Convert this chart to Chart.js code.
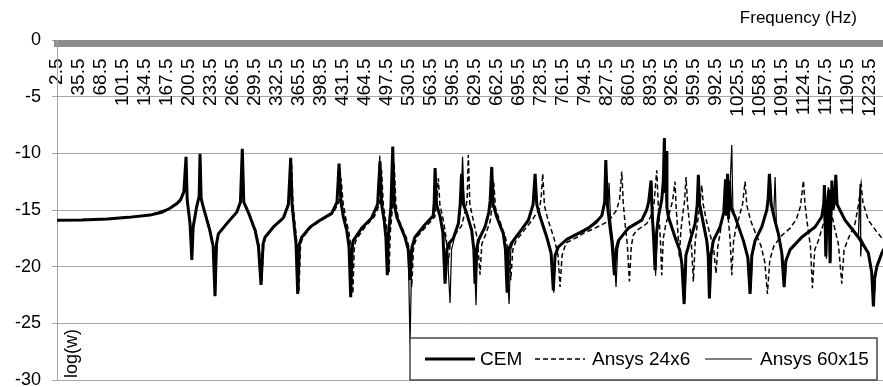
<!DOCTYPE html>
<html>
<head>
<meta charset="utf-8">
<script src="https://cdn.jsdelivr.net/npm/chart.js@4.4.1/dist/chart.umd.min.js"></script>
<style>
  html, body { margin: 0; padding: 0; background: #fff; }
</style>
</head>
<body>
<canvas id="freq-chart" width="883" height="387"></canvas>
<script>
// tick labels of the frequency axis (Hz)
const freqTicks = [2.5, 35.5, 68.5, 101.5, 134.5, 167.5, 200.5, 233.5, 266.5, 299.5,
    332.5, 365.5, 398.5, 431.5, 464.5, 497.5, 530.5, 563.5, 596.5, 629.5, 662.5,
    695.5, 728.5, 761.5, 794.5, 827.5, 860.5, 893.5, 926.5, 959.5, 992.5, 1025.5,
    1058.5, 1091.5, 1124.5, 1157.5, 1190.5, 1223.5];

// [frequency, log(w)]
const cemPoints = [
    [2.5, -15.9], [40, -15.88], [78, -15.8], [110, -15.65], [142, -15.45], [160, -15.2], [172, -14.85], [182, -14.45], [188, -14.1], [193, -13.4], [196.3, -10.3],
    [198, -14.1], [202.3, -16.2], [205, -19.4], [207, -16.5], [212.3, -14.7], [216, -13.8], [217.3, -10.05],
    [219, -14.0], [222, -14.7], [232, -16.8], [237, -18.2], [239.8, -22.6], [242, -18.0], [244.8, -17.1], [257.4, -16.2], [272.4, -15.2], [278, -14.3], [280.8, -9.6],
    [283, -14.3], [289.8, -15.2], [300, -16.8], [305, -18.2], [308.9, -21.6], [312, -18.0], [314.9, -17.4], [327.4, -16.5], [342.4, -15.7], [350, -14.5], [353.5, -10.4],
    [355.5, -14.5], [358, -16.0], [361.5, -18.0], [364, -22.4], [366.5, -18.0], [370, -17.4], [382.5, -16.5], [395, -16.0], [415, -15.3], [423, -14.3], [426.1, -10.9],
    [429, -14.3], [432.5, -15.6], [437.6, -16.8], [441, -18.2], [443.6, -22.7], [446, -18.2], [447.5, -17.7], [460, -16.6], [475, -15.7], [484, -14.5], [487.6, -10.7],
    [490, -14.5], [494, -16.0], [496.5, -17.5], [498.6, -20.75], [500.3, -17.1], [504, -14.7], [506.7, -9.4],
    [509, -14.5], [512.7, -15.6], [525, -17.4], [530, -18.5], [532.7, -21.2], [535.5, -18.3], [540, -17.4], [555, -16.3], [567.5, -15.5], [569, -14.3], [570.3, -11.3],
    [572.5, -14.5], [578, -15.6], [582, -17.0], [585.3, -21.5], [588, -18.5], [592, -17.9], [597.7, -17.5], [605.3, -16.2], [608, -14.5], [610, -11.8],
    [613, -14.5], [617.8, -15.3], [625.3, -16.8], [628.5, -18.5], [630.3, -21.5], [632.5, -18.5], [635.3, -17.7], [645.3, -16.5], [651, -15.2], [653, -14.2], [655.4, -11.2],
    [657.5, -14.5], [662.9, -15.6], [672.8, -17.1], [676, -18.5], [678.5, -22.3], [680.5, -18.5], [685.4, -17.9], [697.9, -16.9], [710.4, -15.9], [717.5, -14.5], [720.5, -11.8],
    [723, -14.5], [728, -15.6], [738, -17.4], [744.5, -18.8], [747.9, -22.1], [750.5, -19.0], [755.5, -18.25], [768, -17.6], [788, -17.0], [800.5, -16.6], [812, -16.1], [820.7, -15.5], [825, -14.3], [826.7, -10.6],
    [829, -14.5], [833, -16.5], [836, -17.9], [839.6, -20.75], [842, -18.5], [845.6, -17.7], [860.6, -16.6], [880.7, -15.9], [888, -15.0], [891, -14.3], [894.7, -12.4],
    [896.5, -15.5], [898.5, -17.5], [900.7, -20.3], [903, -17.0], [905.7, -15.6], [910.7, -14.1], [913, -12.5], [914.7, -8.65], [916, -13.5], [917.3, -9.8], [918.5, -14.8],
    [920.7, -15.6], [930.7, -17.4], [938, -18.6], [941, -19.8], [944.3, -23.3],
    [947, -19.0], [953.3, -17.7], [960.8, -16.2], [964, -14.5], [965.7, -11.9],
    [967.5, -14.5], [973.2, -16.2], [978.3, -17.7], [980.5, -19.0], [982.3, -22.8], [984.5, -19.0], [988.2, -17.7], [998.3, -16.5], [1004, -15.2], [1006.5, -12.3], [1008, -15.5], [1009.5, -11.8], [1011, -15.8], [1012.5, -12.4],
    [1014.5, -14.8], [1020.9, -15.6], [1033.3, -17.7], [1040, -19.2], [1043.4, -22.4], [1046, -19.0], [1050.9, -17.7], [1061, -16.5], [1068.5, -15.0], [1070.5, -14.0], [1072.4, -11.8],
    [1075, -14.5], [1081, -16.0], [1085.9, -17.1], [1091, -18.8], [1094.5, -21.8], [1097, -19.5], [1103.5, -18.5], [1121, -17.4], [1141, -16.5], [1151, -15.6], [1154, -14.5], [1155, -12.8], [1157.1, -19.1], [1159, -14.8], [1161.5, -13.2], [1163.5, -19.7], [1165, -14.5], [1166.1, -12.4], [1168, -15.0], [1170.5, -14.0], [1172.1, -11.9],
    [1174, -14.5], [1186, -15.9], [1206, -17.4], [1221, -18.8], [1226, -20.5], [1228.6, -23.5], [1230.5, -21.0], [1233.7, -20.0], [1241.2, -18.8], [1243, -18.6]
];

const ansys24Points = [
    [2.5, -15.9], [78, -15.8], [142, -15.45], [172, -14.85], [187, -14.3], [193, -13.4], [196.5, -10.8],
    [198.3, -14.1], [202.5, -16.2], [205.3, -19.2], [207.3, -16.5], [212.5, -14.7], [216.2, -13.8], [217.6, -10.5],
    [219.3, -14.0], [222.5, -14.7], [232.5, -16.8], [237.5, -18.2], [240.3, -22.3], [242.5, -18.0], [245.3, -17.1], [258, -16.2], [273, -15.2], [278.5, -14.3], [281.3, -10.0],
    [283.5, -14.3], [290.5, -15.2], [301, -16.8], [306, -18.2], [309.8, -21.4], [313, -18.0], [316, -17.4], [328.5, -16.5], [343.5, -15.7], [351, -14.5], [354.8, -10.9],
    [357, -14.5], [359.5, -16.0], [363, -18.0], [365.8, -22.2], [368.3, -18.0], [372, -17.4], [384.5, -16.5], [397, -16.0], [417, -15.3], [426, -14.3], [429.1, -12.2],
    [432, -14.3], [436, -15.7], [441, -17.0], [444.5, -18.4], [446.8, -22.4], [449, -18.2], [452, -17.6], [465, -16.5], [479, -15.6], [487, -14.5], [490, -11.5],
    [492.5, -14.5], [497, -16.3], [499.5, -17.6], [501.2, -20.5], [503, -17.0], [506.5, -14.7], [508.8, -10.8],
    [511.5, -14.5], [515.5, -15.8], [527.5, -17.5], [532.5, -18.6], [535.2, -21.8], [538, -18.3], [543, -17.4], [558, -16.4], [570, -15.6], [572.5, -14.3], [575.2, -12.2],
    [577.5, -14.5], [583, -16.0], [587, -17.5], [590.3, -19.5], [593, -18.0], [600, -17.2], [610, -16.4], [616, -15.0], [618.5, -14.0], [620.2, -10.15],
    [622.5, -14.5], [628, -16.0], [634, -17.6], [637.8, -20.7], [640.5, -18.0], [646, -17.2], [653, -16.0], [656, -14.6], [658.5, -12.6],
    [661, -14.8], [667, -15.9], [676, -17.4], [680.5, -18.8], [684, -21.2], [687, -18.5], [692, -17.7], [704, -16.8], [716, -15.9], [727, -14.9], [729.5, -14.0], [732, -11.8],
    [734.5, -14.6], [740, -15.9], [749, -17.5], [755, -19.0], [758, -21.8], [761, -19.0], [767, -17.9], [780.5, -17.5], [795, -17.0], [810.6, -16.6], [830.6, -16.0], [843, -15.0], [847.5, -14.0], [850.7, -11.6],
    [853, -14.5], [856, -16.4], [859, -18.0], [862.1, -21.3], [865, -18.2], [868.1, -17.2], [873.2, -16.8], [880.7, -16.5], [888.2, -16.2], [894, -15.6], [899, -14.5], [903.2, -11.5],
    [905.5, -14.6], [907.5, -16.5], [909, -18.0], [910.7, -20.75], [913, -17.5], [917, -16.2], [922, -15.3], [927, -14.2], [930.7, -12.5],
    [932.5, -15.0], [934.5, -16.5], [937.1, -19.1], [939.5, -16.8], [942, -15.5], [945, -14.2], [947.2, -12.1],
    [949.5, -14.5], [952, -16.0], [955, -17.7], [958.2, -21.3], [961, -17.8], [964, -16.3], [967, -15.0], [970.8, -12.8],
    [973, -14.5], [978, -16.0], [984, -17.3], [989, -18.6], [992.3, -20.6], [995, -18.2], [999, -16.8], [1003, -15.2], [1006, -12.5],
    [1008.5, -14.5], [1011, -16.0], [1013.5, -17.7], [1015.9, -20.75], [1018.5, -17.8], [1022, -16.6], [1027, -15.6], [1032, -14.5], [1035.9, -12.5],
    [1038.5, -14.6], [1044, -15.9], [1052, -17.1], [1060, -18.2], [1065.5, -19.6], [1069.4, -22.4], [1073, -19.4], [1079, -18.2], [1090, -17.3], [1103.5, -16.6], [1113, -15.8], [1119, -14.7], [1123.5, -12.4],
    [1126, -14.6], [1130, -16.5], [1134, -18.2], [1137, -21.9], [1140.5, -18.5], [1146, -17.7], [1153.5, -16.2], [1157.5, -15.0], [1161, -13.0],
    [1164, -14.8], [1170, -16.5], [1176, -18.0], [1181.1, -21.5], [1184.5, -18.5], [1191, -17.5], [1201, -16.2], [1206, -14.6], [1210.1, -12.7],
    [1213, -14.4], [1221, -15.9], [1232, -16.8], [1243, -17.6]
];

const ansys60Points = [
    [2.5, -15.9], [78, -15.8], [142, -15.45], [172, -14.85], [187, -14.3], [193, -13.4], [196.3, -10.6],
    [198, -14.1], [202.3, -16.2], [205, -19.0], [207, -16.5], [212.3, -14.7], [216, -13.8], [217.3, -10.3],
    [219, -14.0], [222, -14.7], [232, -16.8], [237, -18.2], [239.8, -22.2], [242, -18.0], [244.8, -17.1], [257.4, -16.2], [272.4, -15.2], [278, -14.3], [280.8, -9.9],
    [283, -14.3], [289.8, -15.2], [300, -16.8], [305, -18.2], [308.9, -21.3], [312, -18.0], [314.9, -17.4], [327.4, -16.5], [342.4, -15.7], [350, -14.5], [353.5, -10.8],
    [355.5, -14.5], [358, -16.0], [361.5, -18.0], [364, -22.0], [366.5, -18.0], [370, -17.4], [382.5, -16.5], [395, -16.0], [415, -15.3], [423, -14.3], [426.5, -11.3],
    [429, -14.3], [432.5, -15.6], [437.6, -16.8], [441, -18.2], [444, -22.5], [446, -18.2], [447.5, -17.7], [460, -16.6], [475, -15.7], [484, -14.5], [487.2, -10.2],
    [490, -14.5], [494, -16.0], [496.5, -17.5], [498.2, -20.5], [500.3, -17.1], [504, -14.7], [506.2, -9.8],
    [509, -14.5], [512.7, -15.6], [525, -17.4], [530, -18.5], [532.7, -26.9], [535.5, -18.3], [540, -17.4], [555, -16.3], [567.5, -15.5], [569, -14.3], [570.3, -11.6],
    [572.5, -14.5], [578, -15.6], [583, -16.8], [588, -18.0], [592.8, -23.2], [595, -18.5], [600, -17.3], [606, -16.0], [609, -14.5], [611.6, -10.3],
    [614, -14.5], [619, -15.6], [626, -17.0], [629, -18.5], [631.8, -23.4], [634, -18.5], [637, -17.6], [646, -16.4], [652, -15.0], [654, -14.0], [656, -11.5],
    [658, -14.5], [663, -15.6], [673, -17.1], [677, -18.5], [681.4, -23.3], [684, -18.5], [688, -17.7], [699, -16.8], [711, -15.8], [718, -14.5], [721, -12.2],
    [723.5, -14.5], [729, -15.6], [739, -17.4], [745, -18.8], [748.5, -22.3], [751, -19.0], [756, -18.2], [769, -17.5], [789, -16.9], [801, -16.5], [821, -15.5], [825.5, -14.3], [827.5, -11.3], [829.5, -15.0], [831.6, -12.6],
    [834, -16.0], [838, -18.0], [842.1, -21.8], [844.5, -18.5], [848, -17.5], [861, -16.5], [881, -15.8], [889, -14.9], [892, -14.2], [895.5, -12.6],
    [897.5, -15.5], [899.5, -17.5], [901.5, -20.8], [904, -16.8], [907, -15.4], [911.5, -13.9], [914, -12.0], [915.5, -9.6], [917, -13.8], [919, -15.2],
    [922, -15.9], [932, -17.5], [939, -18.8], [942, -20.0], [945.5, -23.0],
    [948, -18.8], [954, -17.5], [961.5, -16.0], [964.5, -14.5], [966.5, -12.3],
    [968.5, -14.5], [974, -16.2], [979, -17.7], [981.5, -19.0], [983.5, -22.4], [985.5, -19.0], [989, -17.6], [999, -16.4], [1005, -15.0], [1007.5, -12.8], [1010, -15.6], [1013, -13.2], [1015.9, -9.27], [1017.5, -14.8],
    [1022, -15.8], [1034, -17.8], [1041, -19.3], [1044.5, -22.0], [1047, -19.0], [1052, -17.6], [1062, -16.4], [1069.5, -14.9], [1071.5, -13.9], [1073.5, -12.2],
    [1076, -14.6], [1079, -15.2], [1081, -12.1], [1083, -16.5], [1087, -17.3], [1092, -18.9], [1095.5, -21.5], [1098, -19.5], [1104.5, -18.4], [1122, -17.3], [1142, -16.4], [1152, -15.5], [1155.5, -13.2], [1158, -19.3], [1160, -14.8], [1164.5, -19.5], [1166.5, -13.0], [1169, -14.8], [1173, -12.3],
    [1175, -14.6], [1187, -15.9], [1206, -17.3], [1208.6, -12.7], [1209.5, -19.1], [1211, -17.6], [1222, -18.9], [1226.5, -20.6], [1229.5, -23.0], [1232, -20.7], [1235, -19.7], [1243, -18.4]
];

const seriesNames = ["CEM", "Ansys 24x6", "Ansys 60x15"];

const fontFamily = "'Liberation Sans', Arial, sans-serif";

// extra texts and the boxed legend inside the plot
const extras = {
    id: "extras",
    afterDatasetsDraw(chart) {
        const ctx = chart.ctx;
        ctx.save();
        ctx.fillStyle = "#000";
        ctx.textBaseline = "middle";

        ctx.font = "17px " + fontFamily;
        ctx.textAlign = "right";
        ctx.fillText("Frequency (Hz)", 857, 18);

        ctx.font = "18px " + fontFamily;
        ctx.textAlign = "left";
        ctx.translate(72, 378);
        ctx.rotate(-Math.PI / 2);
        ctx.fillText("log(w)", 0, 0);
        ctx.setTransform(1, 0, 0, 1, 0, 0);

        // legend box
        ctx.fillStyle = "#fff";
        ctx.fillRect(410, 338, 467, 42);
        ctx.strokeStyle = "#444";
        ctx.lineWidth = 1.5;
        ctx.strokeRect(410, 338, 467, 42);

        const slots = [[425, 475, 480], [535, 585, 592], [705, 752, 760]];
        const cy = 359;
        ctx.font = "19px " + fontFamily;
        ctx.fillStyle = "#000";
        ctx.strokeStyle = "#000";
        chart.data.datasets.forEach((ds, i) => {
            const s = slots[i];
            ctx.lineWidth = ds.borderWidth;
            ctx.setLineDash(ds.borderDash || []);
            ctx.beginPath();
            ctx.moveTo(s[0], cy);
            ctx.lineTo(s[1], cy);
            ctx.stroke();
            ctx.setLineDash([]);
            ctx.fillText(ds.label, s[2], cy + 1);
        });
        ctx.restore();
    }
};

const data = {
    datasets: [
        {
            label: seriesNames[0],
            data: cemPoints,
            borderColor: "#000",
            borderWidth: 3,
        },
        {
            label: seriesNames[1],
            data: ansys24Points,
            borderColor: "#000",
            borderWidth: 1.5,
            borderDash: [5, 3],
        },
        {
            label: seriesNames[2],
            data: ansys60Points,
            borderColor: "#000",
            borderWidth: 1.2,
        },
    ],
};

const config = {
    type: "line",
    data: data,
    options: {
        responsive: false,
        animation: false,
        layout: { padding: { top: 40, bottom: 7, left: 0, right: 0 } },
        elements: {
            point: { radius: 0 },
            line: { tension: 0, borderJoinStyle: "miter" },
        },
        scales: {
            x: {
                type: "linear",
                position: { y: -0.31 },
                min: 2.5,
                max: 1243,
                afterBuildTicks: (scale) => {
                    scale.ticks = freqTicks.map((v) => ({ value: v }));
                },
                afterFit: (scale) => {
                    scale.height = 0;
                    scale.paddingLeft = 0;
                    scale.paddingRight = 0;
                },
                grid: { display: false, drawTicks: false },
                border: { display: true, color: "#8c8c8c", width: 7 },
                ticks: {
                    autoSkip: false,
                    minRotation: 90,
                    maxRotation: 90,
                    padding: 15,
                    color: "#000",
                    font: { family: fontFamily, size: 19 },
                    callback: (v) => String(v),
                },
            },
            y: {
                type: "linear",
                position: "left",
                min: -30,
                max: 0,
                afterFit: (scale) => {
                    scale.width = 57;
                    scale.paddingTop = 0;
                    scale.paddingBottom = 0;
                },
                grid: { color: "#a6a6a6", tickLength: 5 },
                border: { color: "#a6a6a6" },
                ticks: {
                    stepSize: 5,
                    padding: 11,
                    color: "#000",
                    font: { family: fontFamily, size: 18 },
                },
            },
        },
        plugins: {
            legend: { display: false },
            tooltip: { enabled: false },
        },
    },
    plugins: [extras],
};

const freqChart = new Chart(document.getElementById("freq-chart"), config);
</script>
</body>
</html>
